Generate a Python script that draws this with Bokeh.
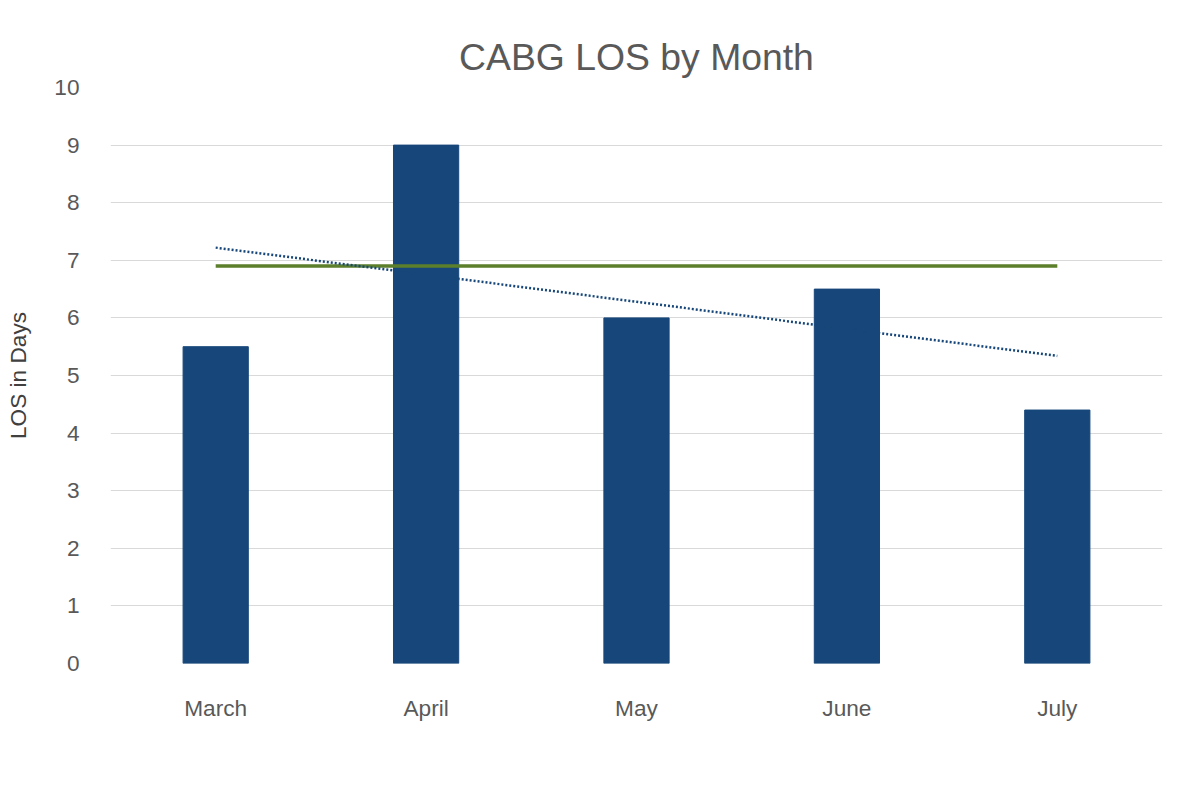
from bokeh.plotting import figure
from bokeh.models import Legend, ColumnDataSource, FixedTicker
from bokeh.embed import file_html
from bokeh.resources import INLINE
import numpy as np

months = ["March", "April", "May", "June", "July"]
los = [5.5, 9.0, 6.0, 6.5, 4.4]
national_avg = [6.9, 6.9, 6.9, 6.9, 6.9]

xs = np.arange(1, len(los) + 1)
slope, intercept = np.polyfit(xs, los, 1)
trend = list(slope * xs + intercept)

src = ColumnDataSource(dict(m=months, los=los, nat=national_avg, tr=trend))

p = figure(x_range=months, y_range=(0, 10), frame_width=1052, frame_height=576,
           output_backend="svg", toolbar_location=None,
           title="CABG LOS by Month", min_border_left=110, min_border_right=14,
           min_border_top=87, min_border_bottom=115)
p.title.text_font = "Liberation Sans"
p.title.text_font_size = "28pt"
p.title.text_font_style = "normal"
p.title.text_color = "#595959"
p.title.align = "center"
p.title.standoff = 20

r1 = p.vbar(x="m", top="los", width=0.31, source=src, color="#17477a")
r2 = p.line(x="m", y="nat", source=src, color="#5b7f2a", line_width=3.5)
r3 = p.line(x="m", y="tr", source=src, color="#17477a", line_width=2.5, line_dash="2 2")

p.yaxis.ticker = FixedTicker(ticks=list(range(0, 11)))
p.yaxis.axis_label = "LOS in Days"
p.yaxis.axis_label_text_font = "Liberation Sans"
p.yaxis.axis_label_text_font_size = "17pt"
p.yaxis.axis_label_text_font_style = "normal"
p.yaxis.axis_label_text_color = "#404040"
p.yaxis.axis_label_standoff = 20
for ax in (p.xaxis, p.yaxis):
    ax.axis_line_color = None
    ax.major_tick_line_color = None
    ax.minor_tick_line_color = None
    ax.major_label_text_font = "Liberation Sans"
    ax.major_label_text_font_size = "17pt"
    ax.major_label_text_color = "#595959"
p.xaxis.major_label_standoff = 25
p.yaxis.major_label_standoff = 25
p.xgrid.grid_line_color = None
p.ygrid.grid_line_color = "#d9d9d9"
p.outline_line_color = None

legend = Legend(items=[("LOS", [r1]), ("National Average", [r2]), ("Linear (LOS)", [r3])],
                orientation="horizontal", location=(100, -115))
legend.label_text_font = "Liberation Sans"
legend.label_text_font_size = "17pt"
legend.label_text_color = "#595959"
legend.border_line_color = None
legend.background_fill_alpha = 0
legend.glyph_width = 70
legend.spacing = 12
p.add_layout(legend, "center")

open("out.html", "w").write(file_html(p, INLINE))
